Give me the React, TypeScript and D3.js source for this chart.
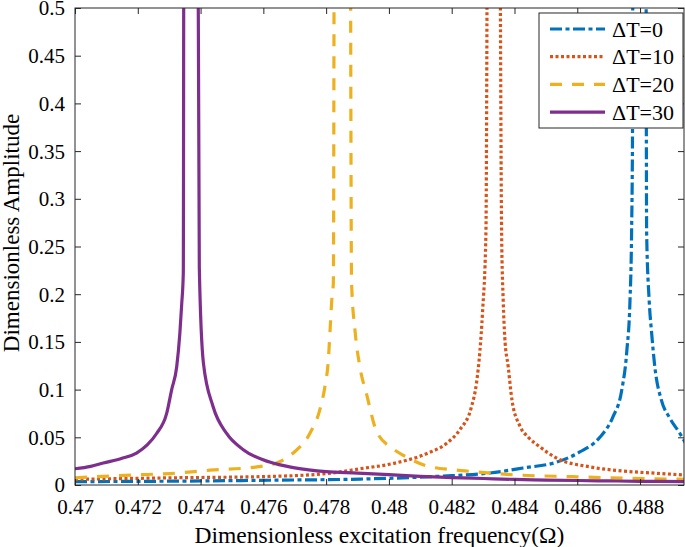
import React, { useEffect, useRef } from 'react';
import * as d3 from 'd3';

// frequency (Omega) and amplitude samples
const freqT0 = [0.47, 0.47303, 0.47621, 0.47908, 0.48162, 0.48322, 0.48427, 0.48535, 0.48608, 0.48672, 0.48713, 0.48742, 0.48758, 0.48768, 0.48773, 0.48776, 0.48779, 0.48817, 0.48821, 0.48829, 0.48837, 0.48847, 0.48868, 0.48895, 0.48927, 0.48945];
const ampT0 = [0.0035, 0.004, 0.005, 0.0062, 0.0092, 0.0126, 0.0178, 0.024, 0.0346, 0.05, 0.071, 0.1, 0.141, 0.194, 0.264, 0.372, 0.95, 0.95, 0.264, 0.194, 0.159, 0.124, 0.089, 0.07, 0.054, 0.044];

const freqT10 = [0.47, 0.47303, 0.47621, 0.47803, 0.47908, 0.48013, 0.48121, 0.48185, 0.48226, 0.48263, 0.48279, 0.4829, 0.48298, 0.48309, 0.48318, 0.48348, 0.48359, 0.48364, 0.48369, 0.4838, 0.48392, 0.48417, 0.48444, 0.48481, 0.48535, 0.4864, 0.48745, 0.48853, 0.4894];
const ampT10 = [0.006, 0.0075, 0.009, 0.012, 0.017, 0.0225, 0.033, 0.044, 0.058, 0.082, 0.107, 0.141, 0.18, 0.264, 0.95, 0.95, 0.264, 0.194, 0.155, 0.124, 0.089, 0.062, 0.05, 0.04, 0.028, 0.019, 0.0147, 0.0123, 0.0105];

const freqT20 = [0.47, 0.47089, 0.47229, 0.47303, 0.4743, 0.4758, 0.47642, 0.47695, 0.47748, 0.4778, 0.47796, 0.47807, 0.47812, 0.47818, 0.47823, 0.47828, 0.47874, 0.47881, 0.47892, 0.47908, 0.47929, 0.47961, 0.48013, 0.48057, 0.48121, 0.48204, 0.48268, 0.48408, 0.48586, 0.48745, 0.4894];
const ampT20 = [0.0075, 0.009, 0.011, 0.012, 0.0155, 0.019, 0.023, 0.0335, 0.054, 0.079, 0.103, 0.131, 0.159, 0.194, 0.212, 0.95, 0.95, 0.212, 0.162, 0.123, 0.095, 0.056, 0.038, 0.029, 0.02, 0.016, 0.014, 0.0105, 0.0087, 0.0072, 0.006];

const freqT30 = [0.47, 0.4705, 0.4709, 0.4715, 0.47196, 0.4723, 0.4726, 0.47292, 0.47308, 0.47324, 0.47334, 0.4734, 0.47345, 0.47348, 0.47387, 0.47396, 0.47409, 0.4744, 0.47483, 0.47536, 0.4762, 0.477, 0.478, 0.479, 0.48, 0.481, 0.482, 0.483, 0.484, 0.485, 0.486, 0.487, 0.488, 0.4894];
const ampT30 = [0.017, 0.0195, 0.023, 0.028, 0.0335, 0.042, 0.054, 0.075, 0.1, 0.124, 0.159, 0.19, 0.222, 0.95, 0.95, 0.228, 0.128, 0.082, 0.054, 0.037, 0.024, 0.018, 0.014, 0.0125, 0.0108, 0.009, 0.0078, 0.0068, 0.0058, 0.0052, 0.0047, 0.0043, 0.0039, 0.0035];

const legendLabels = ['\u0394T=0', '\u0394T=10', '\u0394T=20', '\u0394T=30'];
const xTicks = [0.47, 0.472, 0.474, 0.476, 0.478, 0.48, 0.482, 0.484, 0.486, 0.488];
const yTicks = [0, 0.05, 0.1, 0.15, 0.2, 0.25, 0.3, 0.35, 0.4, 0.45, 0.5];

const FONT = "'Liberation Serif', 'Times New Roman', serif";
const AXIS_COLOR = '#262626';

const App: React.FC = () => {
  const svgRef = useRef<SVGSVGElement>(null);
  const W = 685;
  const H = 547;
  const margin = { top: 8, right: 1, bottom: 62, left: 75 };
  const width = W - margin.left - margin.right;
  const height = H - margin.top - margin.bottom;

  useEffect(() => {
    const svg = d3.select(svgRef.current);
    svg.selectAll('*').remove();

    const x = d3.scaleLinear().domain([0.47, 0.4894]).range([0, width]);
    const y = d3.scaleLinear().domain([0, 0.5]).range([height, 0]);

    const series = [
      { xs: freqT0, ys: ampT0, color: '#0072BD', dash: '12,3.5,4,3.5' },
      { xs: freqT10, ys: ampT10, color: '#D95319', dash: '3,2.5' },
      { xs: freqT20, ys: ampT20, color: '#EDB120', dash: '12,10' },
      { xs: freqT30, ys: ampT30, color: '#7E2F8E', dash: null },
    ];

    const g = svg.append('g').attr('transform', `translate(${margin.left},${margin.top})`);

    g.append('defs')
      .append('clipPath')
      .attr('id', 'plot-clip')
      .append('rect')
      .attr('width', width)
      .attr('height', height);

    const line = d3
      .line<[number, number]>()
      .x((d) => x(d[0]))
      .y((d) => y(d[1]))
      .curve(d3.curveMonotoneX);

    const lines = g.append('g').attr('clip-path', 'url(#plot-clip)');
    series.forEach((s) => {
      const pts = s.xs.map((v, i) => [v, s.ys[i]] as [number, number]);
      lines
        .append('path')
        .datum(pts)
        .attr('d', line)
        .attr('fill', 'none')
        .attr('stroke', s.color)
        .attr('stroke-width', 3.2)
        .attr('stroke-dasharray', s.dash)
        .attr('stroke-linejoin', 'round');
    });

    const fmt = (d: d3.NumberValue) => String(+(+d).toFixed(3));

    const styleAxis = (sel: d3.Selection<SVGGElement, unknown, null, undefined>) => {
      sel.select('.domain').remove();
      sel.selectAll('line').attr('stroke', AXIS_COLOR).attr('stroke-width', 1);
      sel.selectAll('text').attr('font-family', FONT).attr('font-size', 21).attr('fill', '#000');
    };

    const bottom = g
      .append('g')
      .attr('transform', `translate(0,${height})`)
      .call(d3.axisBottom(x).tickValues(xTicks).tickFormat(fmt).tickSize(-6).tickPadding(14));
    styleAxis(bottom);

    const left = g
      .append('g')
      .call(d3.axisLeft(y).tickValues(yTicks).tickFormat(fmt).tickSize(-6).tickPadding(10));
    styleAxis(left);
    left.selectAll('text').attr('dy', '0.33em');

    const top = g.append('g').call(d3.axisTop(x).tickValues(xTicks).tickFormat(() => '').tickSize(-6));
    styleAxis(top);
    const right = g
      .append('g')
      .attr('transform', `translate(${width},0)`)
      .call(d3.axisRight(y).tickValues(yTicks).tickFormat(() => '').tickSize(-6));
    styleAxis(right);

    g.append('rect')
      .attr('width', width)
      .attr('height', height)
      .attr('fill', 'none')
      .attr('stroke', AXIS_COLOR)
      .attr('stroke-width', 1);

    // legend
    const lg = svg.append('g').attr('transform', 'translate(539,13)');
    lg.append('rect')
      .attr('width', 144)
      .attr('height', 115)
      .attr('fill', '#fff')
      .attr('stroke', AXIS_COLOR)
      .attr('stroke-width', 1);
    series.forEach((s, i) => {
      const ly = 16 + i * 27.7;
      lg.append('line')
        .attr('x1', 11)
        .attr('x2', 66)
        .attr('y1', ly)
        .attr('y2', ly)
        .attr('stroke', s.color)
        .attr('stroke-width', 3.2)
        .attr('stroke-dasharray', s.dash);
      lg.append('text')
        .attr('x', 73)
        .attr('y', ly + 7.5)
        .attr('font-family', FONT)
        .attr('font-size', 22)
        .text(legendLabels[i]);
    });

    svg
      .append('text')
      .attr('x', margin.left + width / 2)
      .attr('y', 543)
      .attr('text-anchor', 'middle')
      .attr('font-family', FONT)
      .attr('font-size', 23.5)
      .text('Dimensionless excitation frequency(\u03A9)');

    svg
      .append('text')
      .attr('transform', 'translate(19,233) rotate(-90)')
      .attr('text-anchor', 'middle')
      .attr('font-family', FONT)
      .attr('font-size', 23)
      .text('Dimensionless Amplitude');
  }, []);

  return (
    <svg
      ref={svgRef}
      width={W}
      height={H}
      style={{ position: 'absolute', left: 0, top: 0, background: '#fff' }}
    />
  );
};

export default App;
